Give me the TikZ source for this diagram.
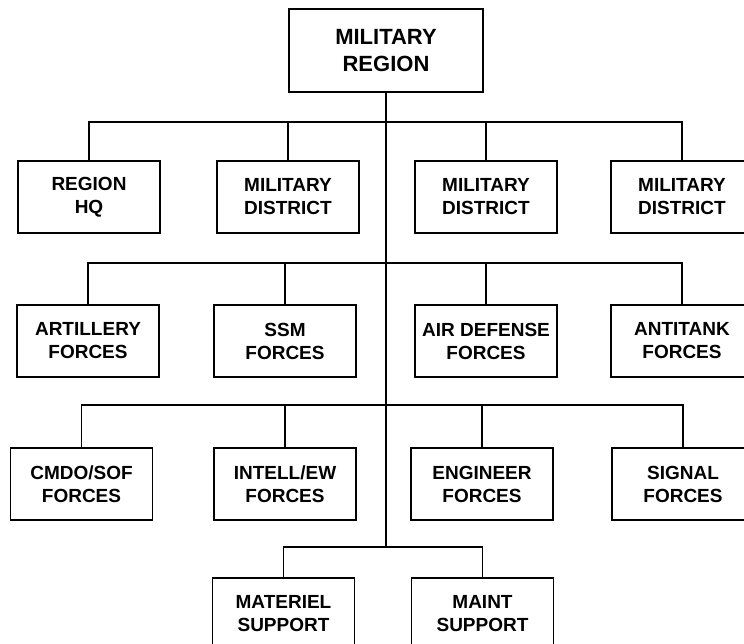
\documentclass[tikz,border=0pt]{standalone}
\usepackage{fontspec}
\setmainfont{Liberation Sans}
\begin{document}
\begin{tikzpicture}[x=1pt,y=-1pt,
  unit/.style={draw,line width=1.6pt,rectangle,minimum width=142pt,minimum height=72pt,inner sep=0pt,align=center,
    font=\bfseries\fontsize{19}{23}\selectfont},
  topunit/.style={unit,minimum width=194pt,minimum height=83pt,font=\bfseries\fontsize{22}{27}\selectfont},
  link/.style={line width=1.6pt}]
\useasboundingbox (0,0) rectangle (744,644);
\clip (0,0) rectangle (744,644);
\node[topunit] (top) at (386,50.5) {MILITARY\\REGION};
% row 1
\node[unit] (r1a) at (89,197) {REGION\\HQ};
\node[unit] (r1b) at (288,197) {MILITARY\\DISTRICT};
\node[unit] (r1c) at (486,197) {MILITARY\\DISTRICT};
\node[unit] (r1d) at (682,197) {MILITARY\\DISTRICT};
% row 2
\node[unit] (r2a) at (88,341) {ARTILLERY\\FORCES};
\node[unit] (r2b) at (285,341) {SSM\\FORCES};
\node[unit] (r2c) at (486,341) {AIR DEFENSE\\FORCES};
\node[unit] (r2d) at (682,341) {ANTITANK\\FORCES};
% row 3
\node[unit] (r3a) at (81.5,484) {CMDO/SOF\\FORCES};
\node[unit] (r3b) at (285,484) {INTELL/EW\\FORCES};
\node[unit] (r3c) at (482,484) {ENGINEER\\FORCES};
\node[unit] (r3d) at (683,484) {SIGNAL\\FORCES};
% row 4
\node[unit] (r4a) at (283.5,614) {MATERIEL\\SUPPORT};
\node[unit] (r4b) at (482.5,614) {MAINT\\SUPPORT};
% buses
\coordinate (bus1) at (386,122);
\coordinate (bus2) at (386,263);
\coordinate (bus3) at (386,405);
\coordinate (bus4) at (386,547);
\draw[link] (top.south) -- (bus4);
\draw[link] (r1a.north) |- (bus1) -| (r1d.north);
\draw[link] (r1b.north) -- (r1b.north |- bus1);
\draw[link] (r1c.north) -- (r1c.north |- bus1);
\draw[link] (r2a.north) |- (bus2) -| (r2d.north);
\draw[link] (r2b.north) -- (r2b.north |- bus2);
\draw[link] (r2c.north) -- (r2c.north |- bus2);
\draw[link] (r3a.north) |- (bus3) -| (r3d.north);
\draw[link] (r3b.north) -- (r3b.north |- bus3);
\draw[link] (r3c.north) -- (r3c.north |- bus3);
\draw[link] (r4a.north) |- (bus4) -| (r4b.north);
\end{tikzpicture}
\end{document}
